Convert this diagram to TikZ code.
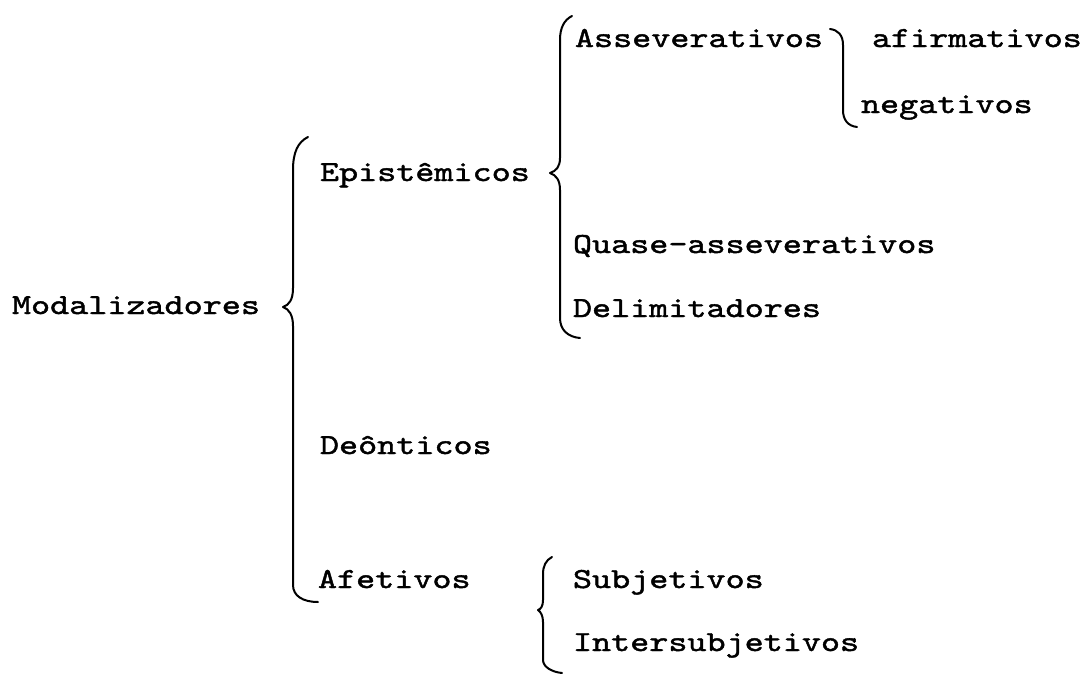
\documentclass[tikz,border=0pt]{standalone}
\usepackage{fontspec}
% a wide typewriter face
\newfontfamily\twfont{lmmono10-regular.otf}[FakeBold=1.5,FakeStretch=1.25]
\begin{document}
\begin{tikzpicture}[x=0.75pt,y=-0.75pt,
  label/.style={anchor=base west,inner sep=0pt,outer sep=0pt,
    font=\twfont\fontsize{21.8}{26}\selectfont},
  brace/.style={line width=1.5pt,line cap=round,line join=round}]
\useasboundingbox (0,0) rectangle (1083,676);

% level 0
\node[label] (mod) at (12,314) {Modalizadores};
% level 1
\node[label] (epi) at (320,181) {Epistêmicos};
\node[label] (deo) at (320,454) {Deônticos};
\node[label] (afe) at (318,588) {Afetivos};
% level 2 (epistemic)
\node[label] (ass) at (575,47) {Asseverativos};
\node[label] (qua) at (573,253) {Quase-asseverativos};
\node[label] (del) at (573,317) {Delimitadores};
% level 2 (affective)
\node[label] (sub) at (573,588) {Subjetivos};
\node[label] (int) at (573,651) {Intersubjetivos};
% level 3 (assertive)
\node[label] (afi) at (872,47) {afirmativos};
\node[label] (neg) at (861,113) {negativos};

% brace: Modalizadores
\draw[brace] (308,137) .. controls (298,142) and (293,152) .. (293,170)
  -- (293,288) .. controls (293,300) and (289,305) .. (283,307)
  .. controls (289,309) and (293,315) .. (293,326)
  -- (293,585) .. controls (293,596) and (303,602) .. (318,602);
% brace: Epistemicos
\draw[brace] (572,16) .. controls (564,20) and (560,28) .. (560,40)
  -- (560,158) .. controls (560,167) and (556,171) .. (550,173)
  .. controls (556,175) and (560,180) .. (560,190)
  -- (560,318) .. controls (560,330) and (568,337) .. (580,338);
% brace: Asseverativos
\draw[brace] (830,29) .. controls (838,30) and (843,35) .. (843,45)
  -- (843,110) .. controls (843,120) and (848,126) .. (857,127);
% brace: Afetivos
\draw[brace] (552,557) .. controls (546,560) and (543,566) .. (543,574)
  -- (543,600) .. controls (543,606) and (541,609) .. (538,610)
  .. controls (541,612) and (543,616) .. (543,622)
  -- (543,660) .. controls (543,667) and (552,672) .. (562,673);
\end{tikzpicture}
\end{document}
